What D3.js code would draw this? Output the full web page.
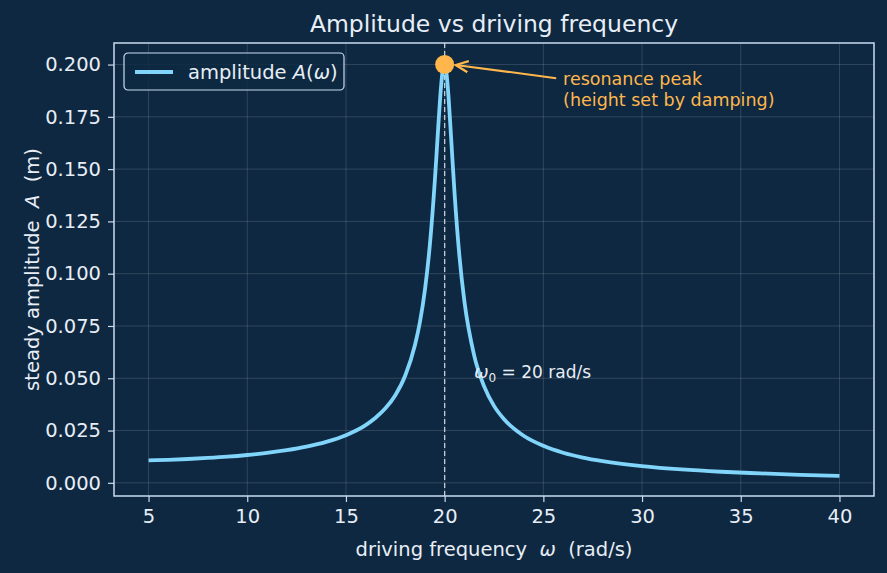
<!DOCTYPE html>
<html>
<head>
<meta charset="utf-8">
<script src="https://cdn.jsdelivr.net/npm/d3@7"></script>
<style>
  body { margin: 0; background: #0e2841; }
  svg { display: block; font-family: "DejaVu Sans", sans-serif; }
</style>
</head>
<body>
<svg id="chart"></svg>
<script>
// driving frequency (rad/s) and steady amplitude (m)
const omega = [5, 6, 7, 8, 9, 10, 11, 12, 13, 14, 15, 16, 16.5, 17, 17.5, 18, 18.5, 18.75, 19, 19.25, 19.5, 19.6, 19.7, 19.8, 19.9, 20,
  20.1, 20.2, 20.3, 20.4, 20.5, 20.75, 21, 21.5, 22, 22.5, 23, 24, 25, 26, 27, 28, 30, 32, 34, 36, 38, 40];
const amplitude = [0.0107, 0.0110, 0.0114, 0.0119, 0.0125, 0.0133, 0.0143, 0.0156, 0.0173, 0.0196, 0.0228, 0.0276, 0.0311, 0.0356, 0.0419, 0.0512, 0.0660, 0.0770, 0.0922, 0.1137, 0.1441, 0.1587, 0.1738, 0.1874, 0.1971, 0.2000,
  0.1952, 0.1840, 0.1693, 0.1537, 0.1388, 0.1083, 0.0868, 0.0607, 0.0461, 0.0368, 0.0305, 0.0225, 0.0177, 0.0144, 0.0121, 0.0104, 0.0080, 0.0064, 0.0053, 0.0045, 0.0038, 0.0033];

const xTicks = [5, 10, 15, 20, 25, 30, 35, 40];
const yTicks = [0, 0.025, 0.05, 0.075, 0.1, 0.125, 0.15, 0.175, 0.2];

const omega0 = 20;
const peak = { w: 20, a: 0.2 };
const peakNote = ["resonance peak", "(height set by damping)"];

const width = 887, height = 573;
const margin = { top: 43, right: 13, bottom: 77, left: 114 };

const bg = "#0e2841";
const fg = "#e8eef6";
const spine = "#c9dcef";
const curveColor = "#81d4fa";
const orange = "#ffb74d";

const svg = d3.select("#chart").attr("width", width).attr("height", height);
svg.append("rect").attr("width", width).attr("height", height).attr("fill", bg);

// scales, with matplotlib-like 5% margins
const x = d3.scaleLinear().domain([3.25, 41.75]).range([margin.left, width - margin.right]);
const y = d3.scaleLinear().domain([-0.0063, 0.2103]).range([height - margin.bottom, margin.top]);

const data = omega.map((w, i) => ({ w: w, a: amplitude[i] }));

// grid
const grid = svg.append("g").attr("stroke", "#ffffff").attr("stroke-opacity", 0.18).attr("stroke-width", 0.8);
grid.selectAll(".gx").data(xTicks).enter().append("line")
  .attr("x1", d => x(d)).attr("x2", d => x(d))
  .attr("y1", margin.top).attr("y2", height - margin.bottom);
grid.selectAll(".gy").data(yTicks).enter().append("line")
  .attr("x1", margin.left).attr("x2", width - margin.right)
  .attr("y1", d => y(d)).attr("y2", d => y(d));

// omega_0 marker line
svg.append("line")
  .attr("x1", x(omega0)).attr("x2", x(omega0))
  .attr("y1", margin.top).attr("y2", height - margin.bottom)
  .attr("stroke", "#c3ccd6").attr("stroke-width", 1.3)
  .attr("stroke-dasharray", "5,3");

// curve
const line = d3.line().x(d => x(d.w)).y(d => y(d.a)).curve(d3.curveMonotoneX);
svg.append("path")
  .datum(data)
  .attr("d", line)
  .attr("fill", "none")
  .attr("stroke", curveColor)
  .attr("stroke-width", 3.8)
  .attr("stroke-linejoin", "round");

// axes
const xAxis = d3.axisBottom(x).tickValues(xTicks).tickSize(6).tickPadding(7).tickFormat(d3.format("d"));
const yAxis = d3.axisLeft(y).tickValues(yTicks).tickSize(6).tickPadding(7).tickFormat(d3.format(".3f"));

const gx = svg.append("g").attr("transform", `translate(0,${height - margin.bottom})`).call(xAxis);
const gy = svg.append("g").attr("transform", `translate(${margin.left},0)`).call(yAxis);
[gx, gy].forEach(g => {
  g.select(".domain").remove();
  g.selectAll(".tick line").attr("stroke", spine).attr("stroke-width", 1.2);
  g.selectAll(".tick text").attr("fill", fg).style("font-size", "19.5px").style("font-family", "DejaVu Sans");
});

// frame
svg.append("rect")
  .attr("x", margin.left).attr("y", margin.top)
  .attr("width", width - margin.left - margin.right)
  .attr("height", height - margin.top - margin.bottom)
  .attr("fill", "none").attr("stroke", spine).attr("stroke-width", 1.5);

// annotation arrow + peak dot
svg.append("defs").append("marker")
  .attr("id", "head").attr("viewBox", "0 0 10 10")
  .attr("refX", 9).attr("refY", 5)
  .attr("markerWidth", 7).attr("markerHeight", 7)
  .attr("orient", "auto")
  .append("path").attr("d", "M0,1 L9,5 L0,9").attr("fill", "none").attr("stroke", orange).attr("stroke-width", 1.6);

svg.append("line")
  .attr("x1", x(25.65)).attr("y1", y(0.1935))
  .attr("x2", x(peak.w) + 11).attr("y2", y(peak.a) + 0.5)
  .attr("stroke", orange).attr("stroke-width", 2)
  .attr("marker-end", "url(#head)");

svg.append("circle")
  .attr("cx", x(peak.w)).attr("cy", y(peak.a)).attr("r", 9.5)
  .attr("fill", orange);

const note = svg.append("text")
  .attr("fill", orange).style("font-size", "17.5px");
peakNote.forEach((t, i) => {
  note.append("tspan").attr("x", x(26)).attr("y", y(0.19) + i * 21).text(t);
});

// omega_0 label
const w0 = svg.append("text")
  .attr("x", x(21.5)).attr("y", y(0.05))
  .attr("fill", fg).style("font-size", "17px");
w0.append("tspan").style("font-style", "italic").text("ω");
w0.append("tspan").attr("dy", 4).style("font-size", "12px").text("0");
w0.append("tspan").attr("dy", -4).text(" = 20 rad/s");

// title and axis labels
svg.append("text")
  .attr("x", (margin.left + width - margin.right) / 2).attr("y", 32)
  .attr("text-anchor", "middle").attr("fill", fg)
  .style("font-size", "23.5px")
  .text("Amplitude vs driving frequency");

const xl = svg.append("text")
  .attr("x", (margin.left + width - margin.right) / 2).attr("y", 556)
  .attr("text-anchor", "middle").attr("fill", fg).style("font-size", "19.5px")
  .attr("xml:space", "preserve");
xl.append("tspan").text("driving frequency  ");
xl.append("tspan").style("font-style", "italic").text("ω");
xl.append("tspan").text("  (rad/s)");

const yl = svg.append("text")
  .attr("transform", `translate(32,${(margin.top + height - margin.bottom) / 2}) rotate(-90)`)
  .attr("text-anchor", "middle").attr("fill", fg).style("font-size", "19.5px")
  .attr("dy", "0.35em")
  .attr("xml:space", "preserve");
yl.append("tspan").text("steady amplitude  ");
yl.append("tspan").style("font-style", "italic").text("A");
yl.append("tspan").text("  (m)");

// legend
const legend = svg.append("g").attr("transform", "translate(124,53)");
legend.append("rect")
  .attr("width", 220).attr("height", 37).attr("rx", 4)
  .attr("fill", bg).attr("fill-opacity", 0.8)
  .attr("stroke", spine).attr("stroke-width", 1.2);
legend.append("line")
  .attr("x1", 11).attr("x2", 49).attr("y1", 19).attr("y2", 19)
  .attr("stroke", curveColor).attr("stroke-width", 3.8);
const lt = legend.append("text").attr("x", 64).attr("y", 25.5).attr("fill", fg).style("font-size", "19.5px");
lt.append("tspan").text("amplitude ");
lt.append("tspan").style("font-style", "italic").text("A");
lt.append("tspan").text("(");
lt.append("tspan").style("font-style", "italic").text("ω");
lt.append("tspan").text(")");
</script>
</body>
</html>
